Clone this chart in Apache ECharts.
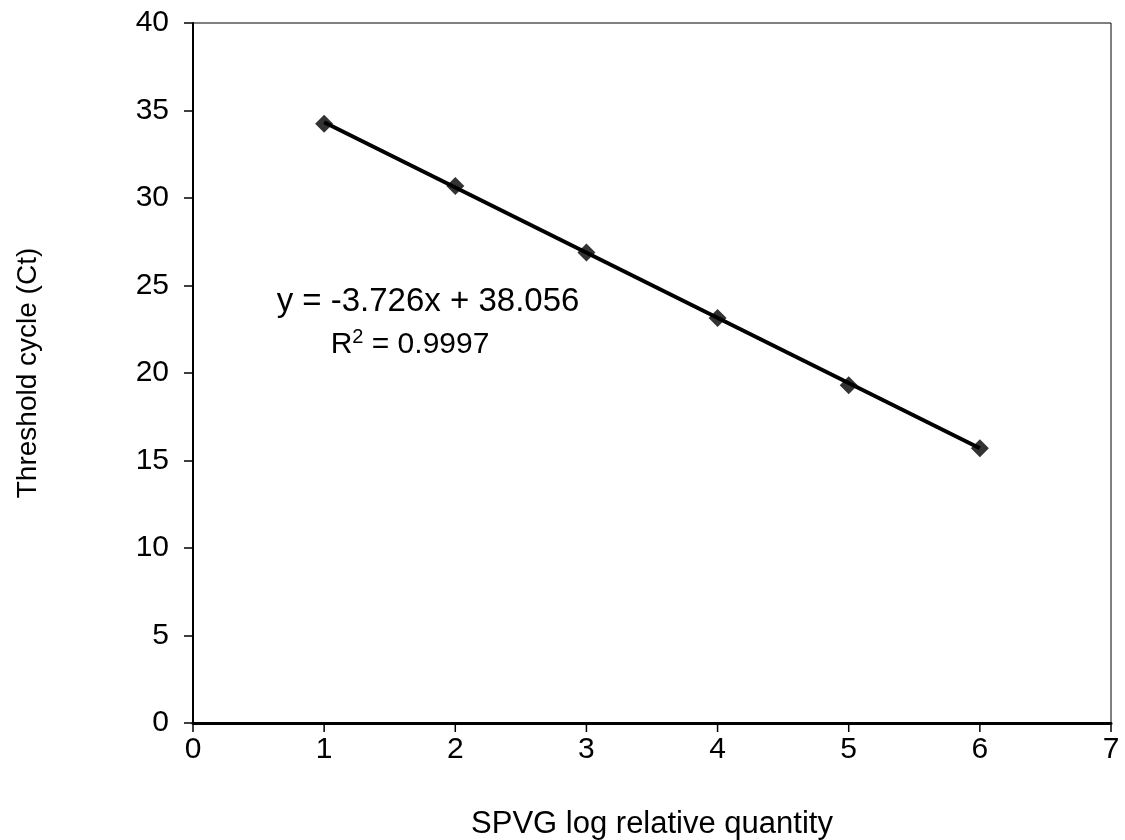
<!DOCTYPE html>
<html>
<head>
<meta charset="utf-8">
<script src="https://cdn.jsdelivr.net/npm/echarts@6/dist/echarts.min.js"></script>
<style>
  html, body { margin: 0; padding: 0; background: #fff; }
  #chart { width: 1125px; height: 840px; }
</style>
</head>
<body>
<div id="chart"></div>
<script>
// Standard curve: threshold cycle against log relative quantity
const logQuantity = [1, 2, 3, 4, 5, 6];
const thresholdCycle = [34.25, 30.68, 26.88, 23.15, 19.30, 15.70];

// Linear fit reported on the chart
const fitSlope = -3.726;
const fitIntercept = 38.056;
const fitR2 = 0.9997;
const fitRange = [1, 6];

const xTicks = { min: 0, max: 7, interval: 1 };
const yTicks = { min: 0, max: 40, interval: 5 };

const fitLine = fitRange.map(x => [x, fitSlope * x + fitIntercept]);
const points = logQuantity.map((x, i) => [x, thresholdCycle[i]]);

// tick positions along the bottom axis
const xTickValues = [];
for (let v = xTicks.min; v <= xTicks.max; v += xTicks.interval) xTickValues.push([v, yTicks.min]);

const FONT = '"Liberation Sans", Arial, sans-serif';
const chart = echarts.init(document.getElementById('chart'));

chart.setOption({
  animation: false,
  backgroundColor: '#ffffff',
  textStyle: { fontFamily: FONT, color: '#000' },
  grid: {
    left: 193, right: 14, top: 23, bottom: 117,
    containLabel: false,
    outerBoundsMode: 'none',
    show: true, borderColor: '#000', borderWidth: 1, backgroundColor: 'transparent'
  },
  xAxis: {
    type: 'value',
    min: xTicks.min, max: xTicks.max, interval: xTicks.interval,
    name: 'SPVG log relative quantity',
    nameLocation: 'middle', nameGap: 86,
    nameTextStyle: { fontFamily: FONT, fontSize: 31, color: '#000' },
    axisLine: { show: true, onZero: false, lineStyle: { color: '#000', width: 3 } },
    axisTick: { show: false },
    axisLabel: { fontFamily: FONT, fontSize: 30, color: '#000', margin: 12 },
    splitLine: { show: false }
  },
  yAxis: {
    type: 'value',
    min: yTicks.min, max: yTicks.max, interval: yTicks.interval,
    name: 'Threshold cycle (Ct)',
    nameLocation: 'middle', nameGap: 151, nameRotate: 90,
    nameTextStyle: { fontFamily: FONT, fontSize: 28, color: '#000' },
    axisLine: { show: true, onZero: false, lineStyle: { color: '#000', width: 2 } },
    axisTick: { show: true, inside: false, length: 9, lineStyle: { color: '#000', width: 1.5 } },
    axisLabel: { fontFamily: FONT, fontSize: 30, color: '#000', margin: 24 },
    splitLine: { show: false }
  },
  series: [
    {
      name: 'Linear fit',
      type: 'line',
      data: fitLine,
      symbol: 'none',
      lineStyle: { color: '#000', width: 4 },
      z: 2
    },
    {
      name: 'Ct',
      type: 'scatter',
      data: points,
      symbol: 'diamond',
      symbolSize: [18, 18],
      itemStyle: { color: '#000' },
      z: 3
    }
  ]
});

// Equation labels plus outward ticks under the x axis (placed through the grid's scale)
const labelGraphics = [
  {
    id: 'eq',
    type: 'text',
    x: 428, y: 302,
    style: {
      text: 'y = ' + fitSlope.toFixed(3) + 'x + ' + fitIntercept.toFixed(3),
      font: '33px ' + FONT, fill: '#000',
      align: 'center', verticalAlign: 'middle'
    }
  },
  {
    id: 'r2',
    type: 'text',
    x: 410, y: 345,
    style: {
      text: 'R{sup|2} = ' + fitR2.toFixed(4),
      font: '30px ' + FONT, fill: '#000',
      align: 'center', verticalAlign: 'middle',
      rich: {
        sup: { font: '20px ' + FONT, fill: '#000', verticalAlign: 'top', padding: [0, 0, 16, 0] }
      }
    }
  }
];
const tickGraphics = xTickValues.map((d, i) => {
  const p = chart.convertToPixel({ gridIndex: 0 }, d);
  return {
    id: 'xtick' + i,
    type: 'line',
    shape: { x1: p[0], y1: p[1], x2: p[0], y2: p[1] + 9 },
    style: { stroke: '#000', lineWidth: 1.5 },
    z: 100
  };
});
chart.setOption({ graphic: labelGraphics.concat(tickGraphics) });
</script>
</body>
</html>
